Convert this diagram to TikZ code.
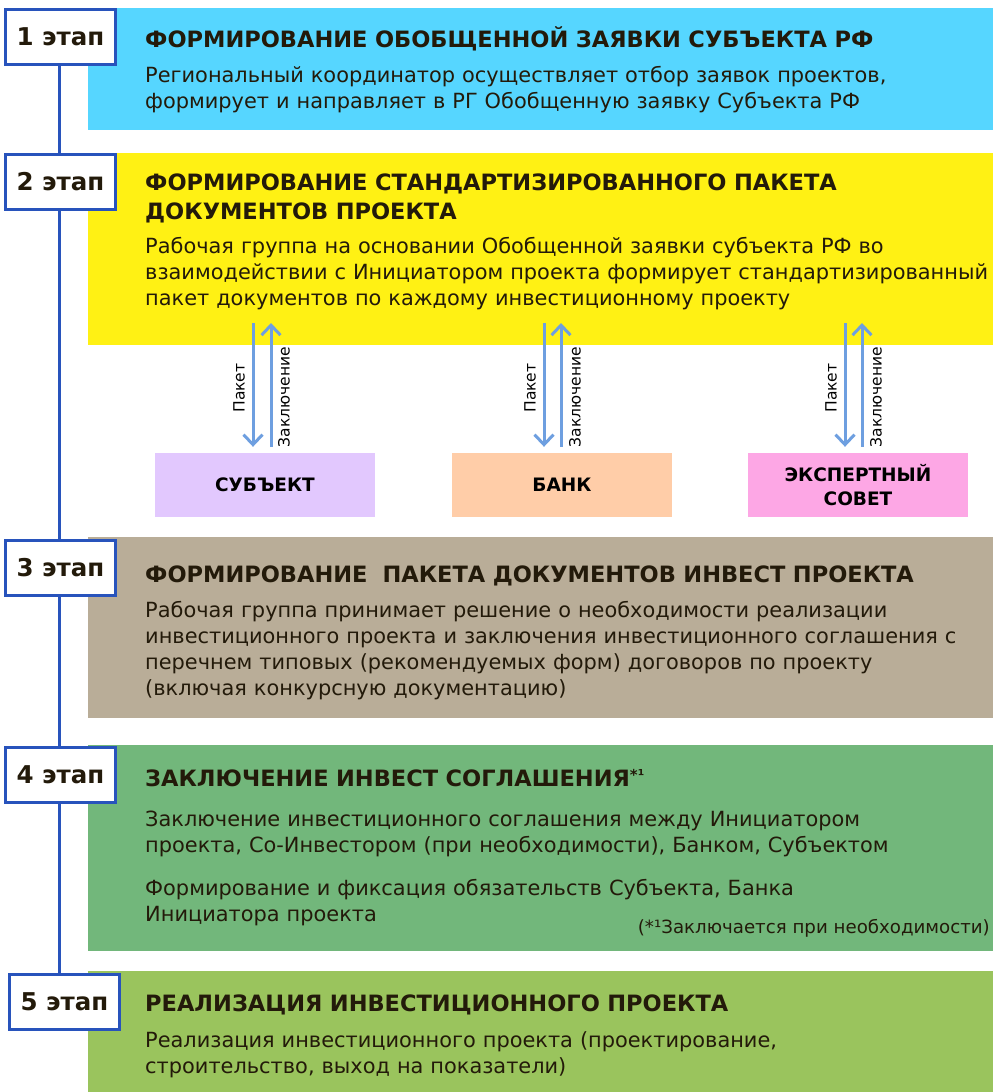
\documentclass[tikz,border=0pt]{standalone}
\usepackage{fontspec}
\setmainfont{DejaVu Sans}
\usetikzlibrary{arrows.meta}

\definecolor{ink}{RGB}{35,26,10}
\definecolor{etapblue}{RGB}{40,83,188}
\definecolor{flowblue}{RGB}{110,159,224}
\definecolor{skyfill}{RGB}{86,214,255}
\definecolor{yellowfill}{RGB}{255,241,20}
\definecolor{taupefill}{RGB}{185,173,152}
\definecolor{greenfill}{RGB}{114,183,123}
\definecolor{limefill}{RGB}{154,196,93}
\definecolor{lilacfill}{RGB}{226,200,254}
\definecolor{peachfill}{RGB}{255,205,168}
\definecolor{pinkfill}{RGB}{253,167,229}

\begin{document}
\begin{tikzpicture}[x=1pt, y=-1pt,
  etap/.style={draw=etapblue, line width=3pt, fill=white, minimum width=110pt, minimum height=55pt, inner sep=0pt, text=ink, font=\fontsize{24.5}{26}\selectfont\bfseries},
  panel/.style={anchor=north west, inner sep=0pt, minimum width=905pt},
  head/.style={anchor=base west, inner sep=0pt, text width=880pt, align=left, text=ink, font=\fontsize{22.5}{29}\selectfont\bfseries},
  body/.style={anchor=base west, inner sep=0pt, text width=880pt, align=left, text=ink, font=\fontsize{20.9}{26}\selectfont},
  party/.style={minimum width=220pt, minimum height=64pt, inner sep=0pt, align=center, font=\fontsize{18.5}{24}\selectfont\bfseries},
  flow/.style={draw=flowblue, line width=3pt, -{Straight Barb[length=10pt,width=19pt,line width=3pt]}},
  flowlabel/.style={rotate=90, inner sep=0pt, font=\fontsize{15.5}{15.5}\selectfont}]

  \useasboundingbox (0,0) rectangle (993,1092);

  % panels
  \node[panel, fill=skyfill, minimum height=122pt] (panel1) at (88,8) {};
  \node[panel, fill=yellowfill, minimum height=192pt] (panel2) at (88,153) {};
  \node[panel, fill=taupefill, minimum height=181pt] (panel3) at (88,537) {};
  \node[panel, fill=greenfill, minimum height=206pt] (panel4) at (88,745) {};
  \node[panel, fill=limefill, minimum height=121pt] (panel5) at (88,971) {};

  % stages
  \coordinate (spine top) at (59,37);
  \coordinate (spine end) at (59,1001);
  \draw[etapblue, line width=3pt] (spine top) -- (spine end);
  \node[etap] (stage1) at (60.5,37) {1 этап};
  \node[etap] (stage2) at (60.5,181.5) {2 этап};
  \node[etap] (stage3) at (60.5,567.5) {3 этап};
  \node[etap] (stage4) at (60.5,775) {4 этап};
  \node[etap] (stage5) at (64.5,1001.5) {5 этап};

  \node[head] (head1) at (145,47) {ФОРМИРОВАНИЕ ОБОБЩЕННОЙ ЗАЯВКИ СУБЪЕКТА РФ};
  \node[body] (text1) at (145,82) {Региональный координатор осуществляет отбор заявок проектов,\\
    формирует и направляет в РГ Обобщенную заявку Субъекта РФ};

  \node[head] (head2) at (145,190) {ФОРМИРОВАНИЕ СТАНДАРТИЗИРОВАННОГО ПАКЕТА\\ДОКУМЕНТОВ ПРОЕКТА};
  \node[body] (text2) at (145,253) {Рабочая группа на основании Обобщенной заявки субъекта РФ во\\
    взаимодействии с Инициатором проекта формирует стандартизированный\\
    пакет документов по каждому инвестиционному проекту};

  \node[head] (head3) at (145,582) {ФОРМИРОВАНИЕ\ \ ПАКЕТА ДОКУМЕНТОВ ИНВЕСТ ПРОЕКТА};
  \node[body] (text3) at (145,617) {Рабочая группа принимает решение о необходимости реализации\\
    инвестиционного проекта и заключения инвестиционного соглашения с\\
    перечнем типовых (рекомендуемых форм) договоров по проекту\\
    (включая конкурсную документацию)};

  \node[head] (head4) at (145,786) {ЗАКЛЮЧЕНИЕ ИНВЕСТ СОГЛАШЕНИЯ\raisebox{6pt}{\fontsize{15}{15}\selectfont *¹}};
  \node[body] (text4) at (145,826) {Заключение инвестиционного соглашения между Инициатором\\
    проекта, Со-Инвестором (при необходимости), Банком, Субъектом\\[17pt]
    Формирование и фиксация обязательств Субъекта, Банка\\
    Инициатора проекта};
  \node[anchor=base east, inner sep=0pt, text=ink, font=\fontsize{18.2}{19}\selectfont] (note4) at (990,933) {(*¹Заключается при необходимости)};

  \node[head] (head5) at (145,1011) {РЕАЛИЗАЦИЯ ИНВЕСТИЦИОННОГО ПРОЕКТА};
  \node[body] (text5) at (145,1047) {Реализация инвестиционного проекта (проектирование,\\
    строительство, выход на показатели)};

  % parties
  \node[party, fill=lilacfill] (subj) at (265,485) {СУБЪЕКТ};
  \node[party, fill=peachfill] (bank) at (562,485) {БАНК};
  \node[party, fill=pinkfill] (expert) at (858,485) {ЭКСПЕРТНЫЙ\\СОВЕТ};

  \coordinate (down1) at (253,323);
  \coordinate (up1) at (271,323);
  \coordinate (down2) at (544,323);
  \coordinate (up2) at (561,323);
  \coordinate (down3) at (845,323);
  \coordinate (up3) at (862,323);

  \draw[flow, shorten >=6pt] (down1) -- (down1 |- subj.north);
  \draw[flow, shorten <=6pt] (up1 |- subj.north) -- (up1);
  \draw[flow, shorten >=6pt] (down2) -- (down2 |- bank.north);
  \draw[flow, shorten <=6pt] (up2 |- bank.north) -- (up2);
  \draw[flow, shorten >=6pt] (down3) -- (down3 |- expert.north);
  \draw[flow, shorten <=6pt] (up3 |- expert.north) -- (up3);

  \node[flowlabel] (pack1) at (239,388) {Пакет};
  \node[flowlabel] (reply1) at (284,397) {Заключение};
  \node[flowlabel] (pack2) at (530,388) {Пакет};
  \node[flowlabel] (reply2) at (575,397) {Заключение};
  \node[flowlabel] (pack3) at (831,388) {Пакет};
  \node[flowlabel] (reply3) at (876,397) {Заключение};

\end{tikzpicture}
\end{document}
